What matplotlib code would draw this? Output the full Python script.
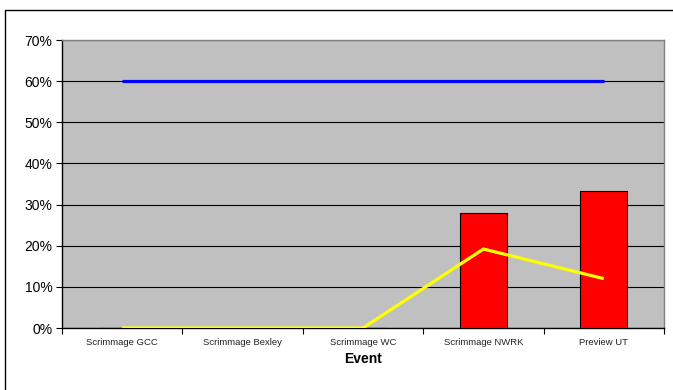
import numpy as np
import matplotlib.pyplot as plt
from matplotlib.patches import Rectangle
from matplotlib.ticker import PercentFormatter

plt.rcParams['font.family'] = ['Liberation Sans', 'DejaVu Sans']

events = ["Scrimmage GCC", "Scrimmage Bexley", "Scrimmage WC", "Scrimmage NWRK", "Preview UT"]
bar_vals = [0, 0, 0, 0.28, 0.333]
yellow_vals = [0, 0, 0, 0.192, 0.12]
blue_vals = [0.60, 0.60, 0.60, 0.60, 0.60]

fig = plt.figure(figsize=(6.73, 3.90), dpi=100)
fig.patches.append(Rectangle((5/673, -0.5), 1.5, 1.5 - 10/390, transform=fig.transFigure,
                             fill=False, edgecolor='black', linewidth=1))

ax = fig.add_axes([62/673, 1 - 328/390, (664 - 62)/673, (328 - 40)/390])
ax.set_facecolor('#c0c0c0')

x = np.arange(len(events))
ax.bar(x, bar_vals, width=0.39, color='#ff0000', edgecolor='black', linewidth=0.8, zorder=3)
ax.plot(x, blue_vals, color='#0000ff', linewidth=2.3, zorder=4, solid_capstyle='butt')
ax.plot(x, yellow_vals, color='#ffff00', linewidth=2.3, zorder=4, solid_capstyle='butt')

ax.set_xlim(-0.5, len(events) - 0.5)
ax.set_ylim(0, 0.7)
ax.set_yticks(np.arange(0, 0.71, 0.1))
ax.yaxis.set_major_formatter(PercentFormatter(1.0, decimals=0))
ax.grid(axis='y', color='black', linewidth=0.8, zorder=1)

ax.set_xticks(x)
ax.set_xticklabels(events, fontsize=6.8, color='#222222')
ax.set_xticks(np.arange(-0.5, len(events)), minor=True)
ax.tick_params(axis='x', which='major', length=0, pad=7)
ax.tick_params(axis='x', which='minor', length=4, direction='out', width=0.8)
ax.tick_params(axis='y', length=4, direction='out', width=0.8, labelsize=10, pad=3)

for s in ['top', 'right']:
    ax.spines[s].set_color('#808080')
    ax.spines[s].set_linewidth(1)
for s in ['left', 'bottom']:
    ax.spines[s].set_color('black')
    ax.spines[s].set_linewidth(1)

ax.set_xlabel("Event", fontsize=10, fontweight='bold', labelpad=4)

fig.savefig("out.png", dpi=100)
